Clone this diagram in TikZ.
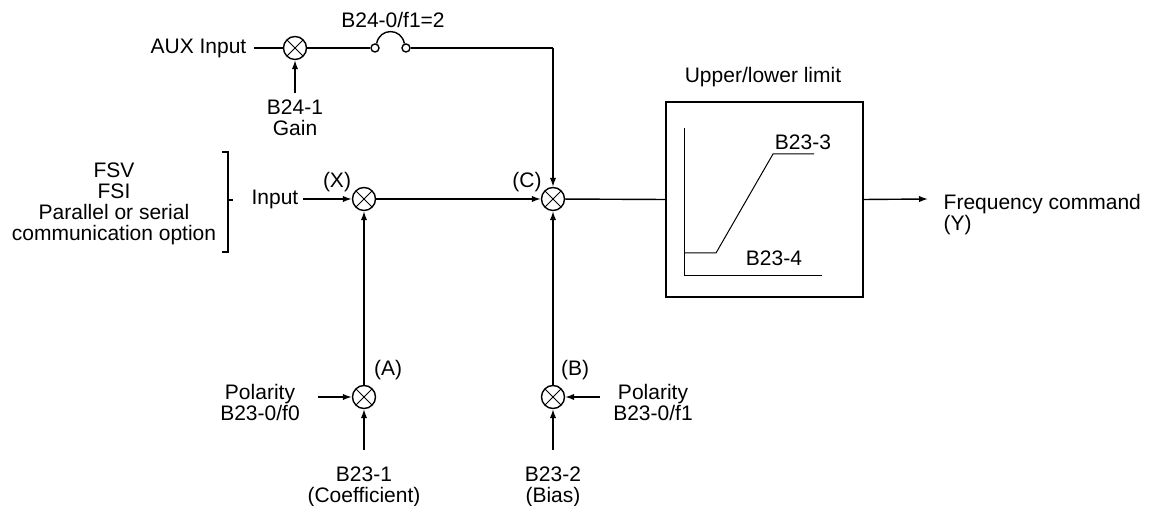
\documentclass[tikz,border=0pt]{standalone}
\usepackage{fontspec}
\setmainfont{Liberation Sans}
\usetikzlibrary{arrows.meta}
\begin{document}
\begin{tikzpicture}[x=0.5pt,y=-0.5pt,
  line width=0.7pt,
  every node/.style={font=\fontsize{10.5}{10.6}\selectfont, inner sep=0pt},
  mult/.style={circle,draw,minimum size=11.5pt,
    path picture={\draw[line width=0.5pt]
      (path picture bounding box.north west)--(path picture bounding box.south east)
      (path picture bounding box.north east)--(path picture bounding box.south west);}},
  arr/.style={-{Latex[length=4.5pt,width=3.2pt]}},
  contact/.style={circle,draw,minimum size=4pt,inner sep=0pt},
  lbl/.style={align=center},
  thin line/.style={line width=0.5pt}]
\useasboundingbox (0,0) rectangle (1151,506);

% multipliers
\node[mult] (maux) at (295,48) {};
\node[mult] (mx) at (364,199) {};
\node[mult] (mc) at (553,199) {};
\node[mult] (ma) at (364,397) {};
\node[mult] (mb) at (553,397) {};

% switch contacts
\node[contact] (s1) at (375,48) {};
\node[contact] (s2) at (406,48) {};

% limiter box
\node[draw, minimum width=98.5pt, minimum height=97.5pt] (lim) at (764.5,199.5) {};
\node (limtitle) at (763,77) {Upper/lower limit};

% AUX path
\node[anchor=east] (auxin) at (247,48) {AUX Input};
\draw[shorten <=3.5pt] (auxin.east) -- (maux);
\node[lbl] (b241) at (295,118) {B24-1\\Gain};
\coordinate (b241t) at (295,93);
\draw[arr] (b241t) -- (maux);
\node (swlbl) at (393,20) {B24-0/f1=2};
\draw (maux) -- (s1);
\draw (s1.70) .. controls +(3,-16) and +(-3,-16) .. (s2.110);
\coordinate (corner) at (553,48);
\draw (s2) -- (corner);
\draw[arr] (corner) -- (mc);

% input source
\node[lbl] (src) at (114,204) {FSV\\FSI\\Parallel or serial\\communication option};
\draw (222,152) -- (228,152) -- (228,252) -- (222,252);
\draw (228,200) -- (233,200);
\node[anchor=east] (inp) at (299,199) {Input};
\draw[arr, shorten <=2pt] (inp.east) -- (mx);
\node (xl) at (337,182) {(X)};
\node (cl) at (527,182) {(C)};
\draw[arr] (mx) -- (mc);
\draw (mc) -- (lim.west);

% output
\coordinate (outend) at (928,199);
\draw[arr] (lim.east) -- (outend);
\node[anchor=west, align=left] (outl) at (943,214.5) {Frequency command\\(Y)};

% limiter graph
\draw[thin line] (684,128) -- (684,276) -- (822,276);
\draw[thin line] (684,253) -- (716,253) -- (773,154) -- (814,154);
\node (b233) at (803,142) {B23-3};
\node (b234) at (774,258) {B23-4};

% coefficient branch
\draw[arr] (ma) -- (mx);
\node (al) at (388,370) {(A)};
\node[lbl] (pa) at (260,402.5) {Polarity\\B23-0/f0};
\coordinate (pain) at (318,397);
\draw[arr] (pain) -- (ma);
\node[lbl] (c1) at (364,487) {B23-1\\(Coefficient)};
\coordinate (c1t) at (364,450);
\draw[arr] (c1t) -- (ma);

% bias branch
\draw[arr] (mb) -- (mc);
\node (bl) at (575,370) {(B)};
\node[lbl] (pb) at (653,402.5) {Polarity\\B23-0/f1};
\coordinate (pbin) at (600,397);
\draw[arr] (pbin) -- (mb);
\node[lbl] (c2) at (553,487) {B23-2\\(Bias)};
\coordinate (c2t) at (553,450);
\draw[arr] (c2t) -- (mb);
\end{tikzpicture}
\end{document}
